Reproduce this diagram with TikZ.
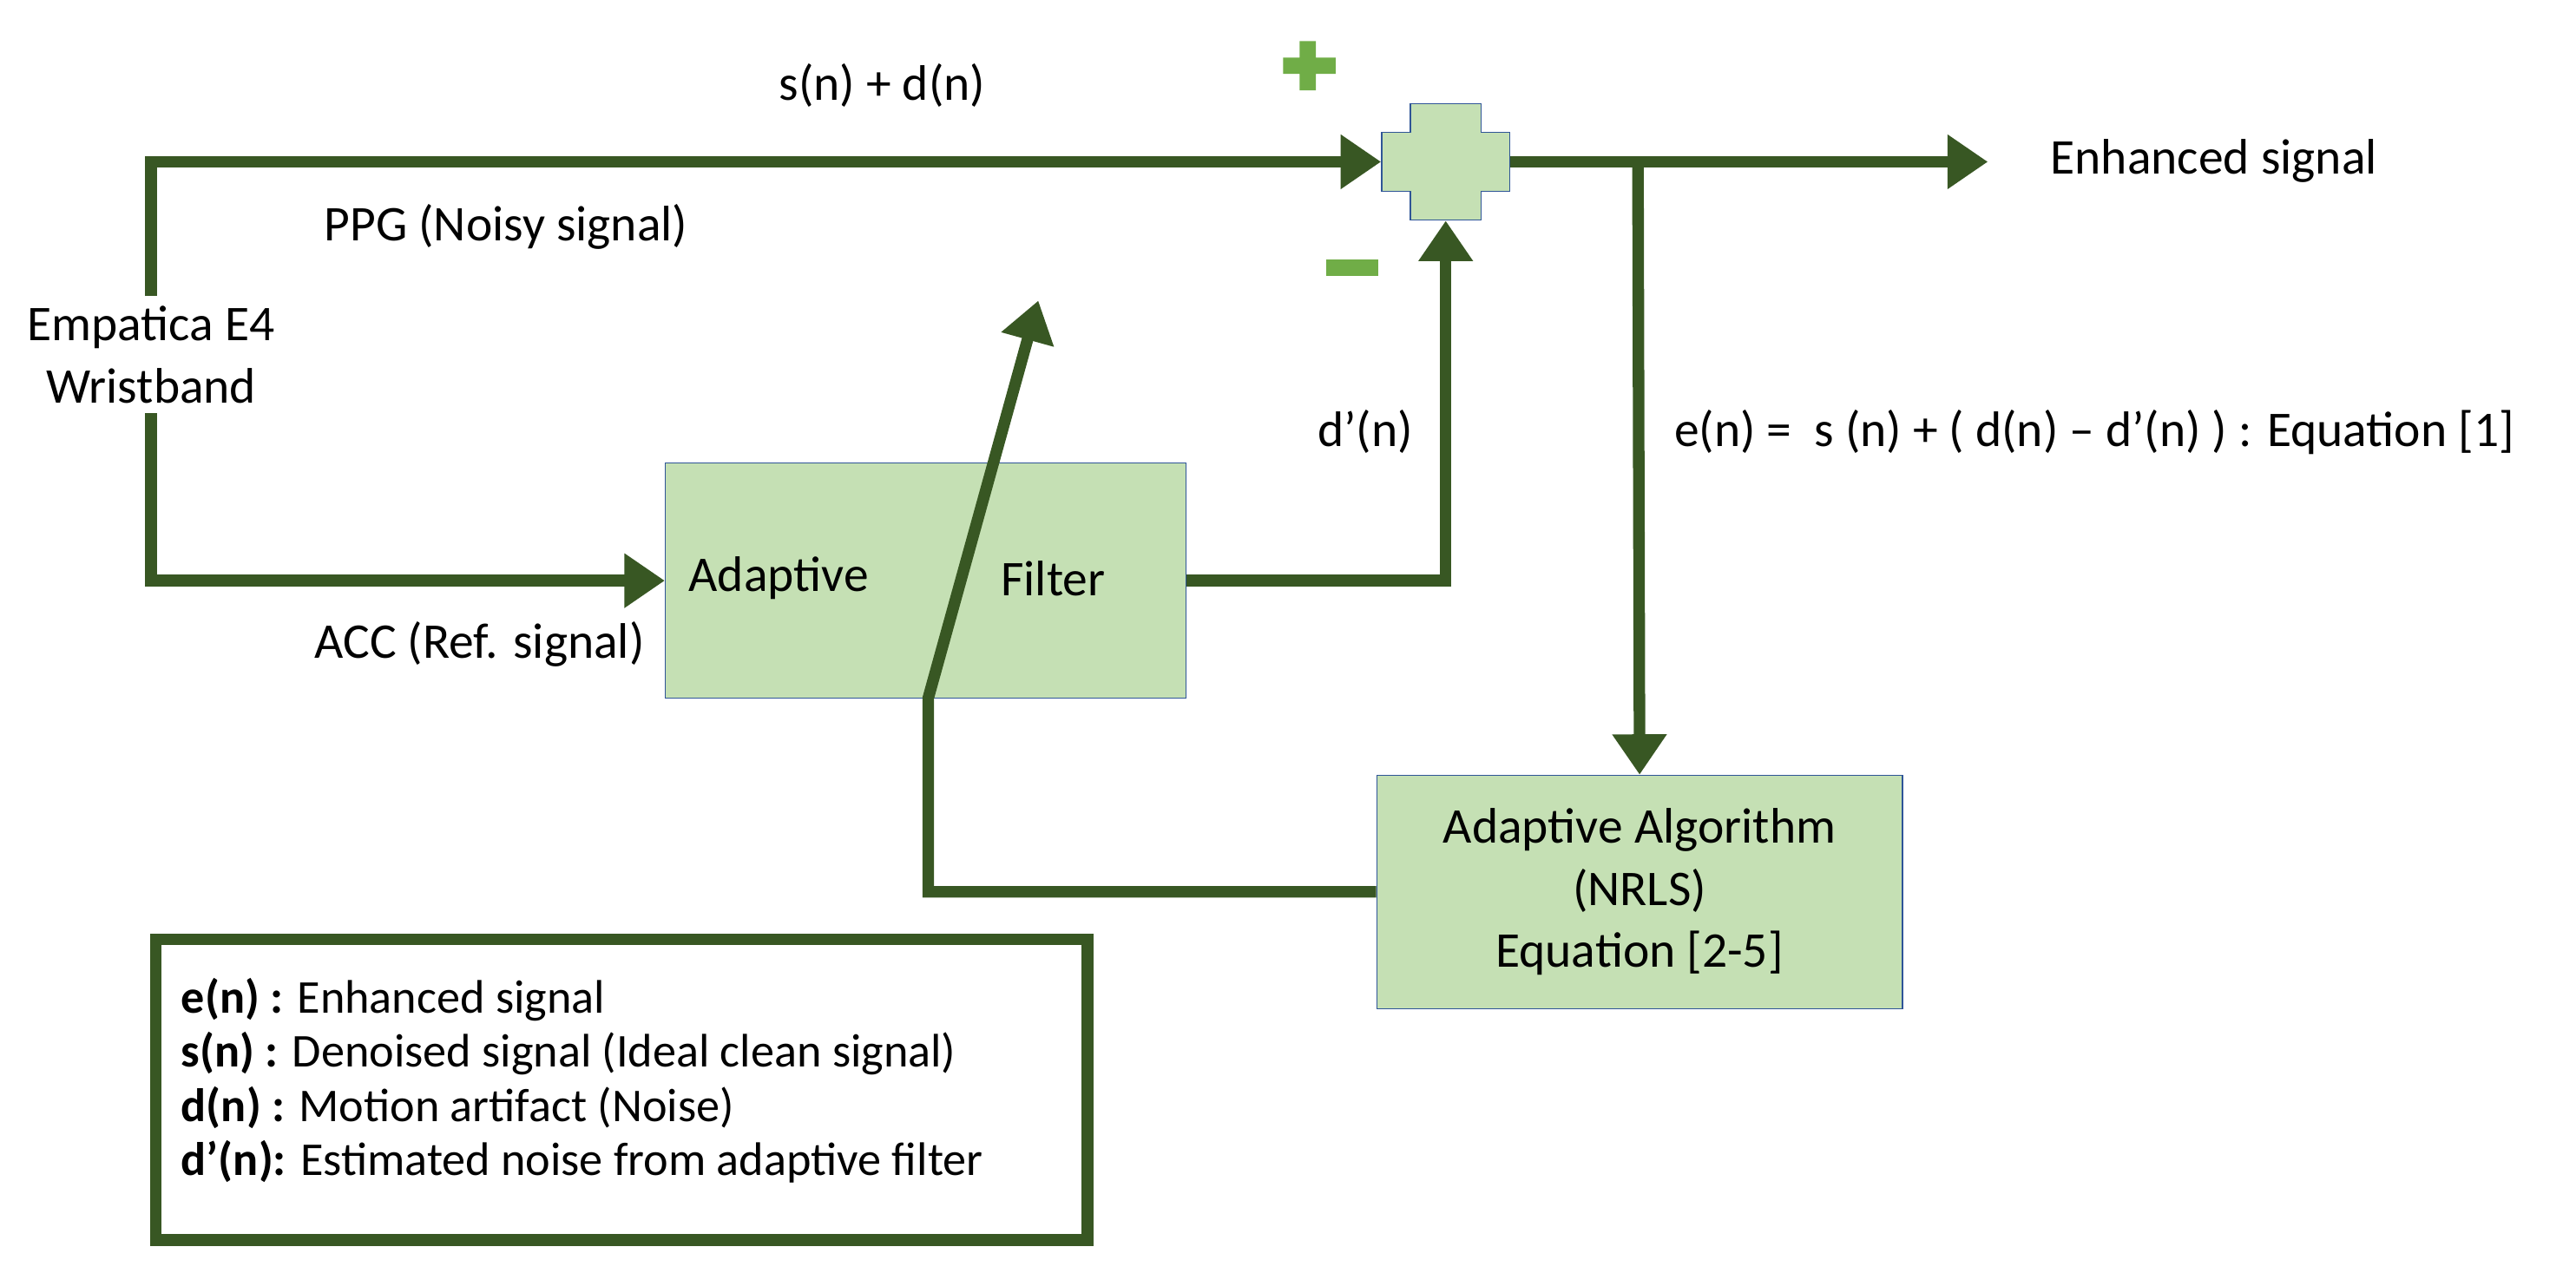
\documentclass[tikz,border=0pt]{standalone}
\usepackage{fontspec}
\setmainfont{Carlito}
\usetikzlibrary{arrows.meta,positioning,calc}
\definecolor{dgreen}{RGB}{56,87,35}
\definecolor{lgreen}{RGB}{197,224,180}
\definecolor{mgreen}{RGB}{112,173,71}
\definecolor{bblue}{RGB}{47,85,151}
\begin{document}
\begin{tikzpicture}[x=0.02cm,y=-0.02cm,
  font=\fontsize{17.3}{21.5}\selectfont,
  BOX/.style = {draw=bblue, fill=lgreen, thin, align=center,
                inner sep=0pt},
  LNK/.style = {draw=dgreen, line width=4pt},
  ARR/.style = {LNK, -{Triangle[length=14pt,width=18pt]}},
  SGN/.style = {fill=mgreen, draw=none}
                    ]
\useasboundingbox (0,0) rectangle (1568,775);
% blocks
\node (filt) [BOX, minimum width=317*0.02cm, minimum height=143*0.02cm]
      at (563.5,353.5) {};
\node at (474,352) {Adaptive};
\node at (641,352) {Filter};
\node (algo) [BOX, minimum width=320*0.02cm, minimum height=142*0.02cm]
      at (998,543) {Adaptive Algorithm\\(NRLS)\\Equation [2-5]};
\node (sum) [minimum width=78*0.02cm, minimum height=71*0.02cm, inner sep=0pt]
      at (880,98.5) {};
\draw[draw=bblue, fill=lgreen, thin]
      (841,80.5) -- (858.5,80.5) -- (858.5,63) -- (901.5,63) -- (901.5,80.5)
      -- (919,80.5) -- (919,116.5) -- (901.5,116.5) -- (901.5,134)
      -- (858.5,134) -- (858.5,116.5) -- (841,116.5) -- cycle;
% texts
\node (src) [align=center] at (92,216) {Empatica E4\\Wristband};
\node (out) [anchor=west] at (1242,98) {Enhanced signal};
\node at (537,52) {s(n) + d(n)};
\node at (308,138) {PPG (Noisy signal)};
\node at (292,392) {ACC (Ref. signal)};
\node at (831,263) {d’(n)};
\node [anchor=west] at (1013,263) {e(n) =\ \ s (n) + ( d(n) – d’(n) ) : Equation [1]};
% signs
\fill[SGN] (791,25) rectangle (801,55) (781,35) rectangle (813,45);
\fill[SGN] (807,158) rectangle (839,168);
% links
\coordinate (tip) at (632,183);
\coordinate (out-end) at (1210,98.5);
\draw[ARR] (src.north) |- (sum.west);
\draw[ARR] (src.south) |- (filt.west);
\draw[ARR] (filt.east) -| (sum.south);
\draw[ARR] (sum.east) -- (out-end);
\draw[ARR] (997,98.5) -- (algo.north);
\draw[ARR] (algo.west) -| (565,425) -- (tip);
% legend
\node (leg) [draw=dgreen, line width=4pt, minimum width=567*0.02cm,
             minimum height=183*0.02cm, inner sep=0pt] at (378.5,663.5) {};
\node [anchor=north west, align=left, inner sep=0pt,
       font=\fontsize{16.3}{18.8}\selectfont] at (110,595)
      {\textbf{e(n) :} Enhanced signal\\
       \textbf{s(n) :} Denoised signal (Ideal clean signal)\\
       \textbf{d(n) :} Motion artifact (Noise)\\
       \textbf{d’(n):} Estimated noise from adaptive filter};
\end{tikzpicture}
\end{document}
